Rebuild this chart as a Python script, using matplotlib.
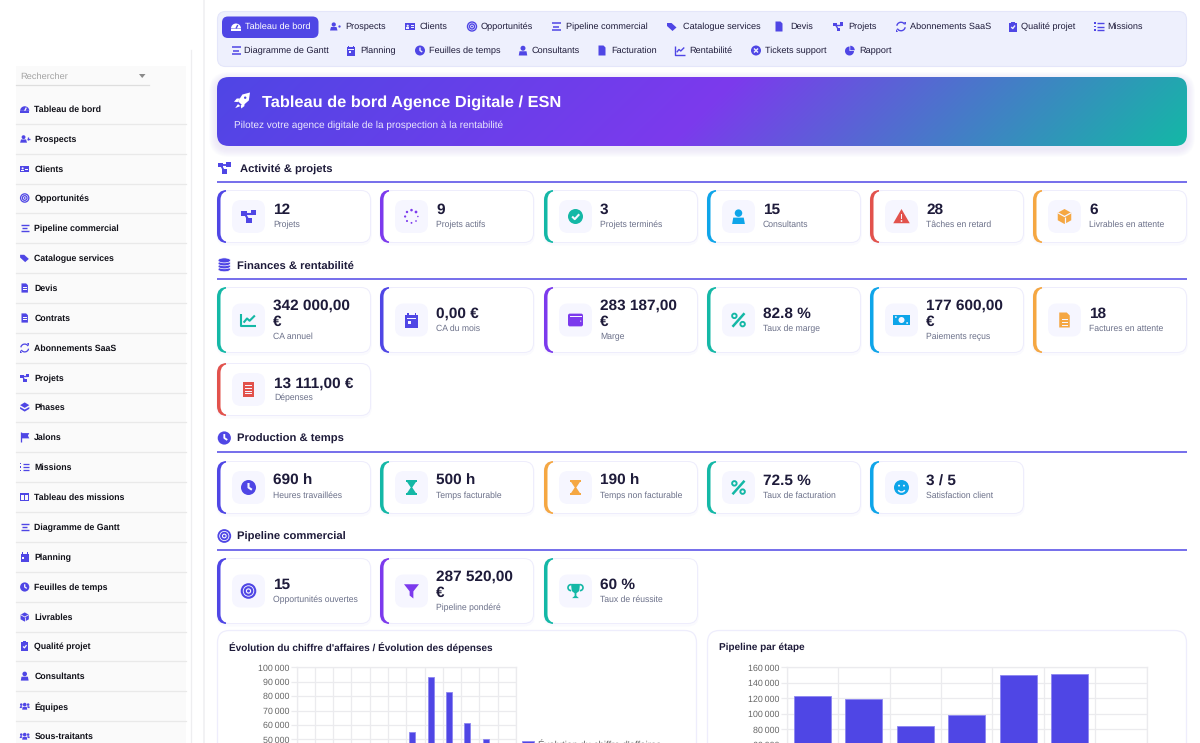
import numpy as np
import matplotlib
matplotlib.use('Agg')
import matplotlib.pyplot as plt
from matplotlib.patches import FancyBboxPatch, Rectangle, Circle, Polygon, Wedge, Ellipse, Arc
from matplotlib.ticker import FuncFormatter, MultipleLocator

plt.rcParams['font.family'] = ['Liberation Sans', 'DejaVu Sans']
plt.rcParams['text.hinting'] = 'no_hinting'

W, H = 1200, 743

INDIGO = '#4F46E5'
PURPLE = '#7C3AED'
TEAL = '#14B8A6'
BLUE = '#0EA5E9'
RED = '#E2524C'
ORANGE = '#F5A742'
DARK = '#1E1B3A'
GREY = '#6B7089'

# data
nav_row1 = ['Tableau de bord', 'Prospects', 'Clients', 'Opportunités', 'Pipeline commercial',
            'Catalogue services', 'Devis', 'Projets', 'Abonnements SaaS', 'Qualité projet', 'Missions']
nav_row2 = ['Diagramme de Gantt', 'Planning', 'Feuilles de temps', 'Consultants', 'Facturation',
            'Rentabilité', 'Tickets support', 'Rapport']
sidebar_items = ['Tableau de bord', 'Prospects', 'Clients', 'Opportunités', 'Pipeline commercial',
                 'Catalogue services', 'Devis', 'Contrats', 'Abonnements SaaS', 'Projets', 'Phases',
                 'Jalons', 'Missions', 'Tableau des missions', 'Diagramme de Gantt', 'Planning',
                 'Feuilles de temps', 'Livrables', 'Qualité projet', 'Consultants', 'Équipes',
                 'Sous-traitants']

activity_values = ['12', '9', '3', '15', '28', '6']
activity_labels = ['Projets', 'Projets actifs', 'Projets terminés', 'Consultants', 'Tâches en retard',
                   'Livrables en attente']
finance_values = ['342 000,00\n€', '0,00 €', '283 187,00\n€', '82.8 %', '177 600,00\n€', '18', '13 111,00 €']
finance_labels = ['CA annuel', 'CA du mois', 'Marge', 'Taux de marge', 'Paiements reçus',
                  'Factures en attente', 'Dépenses']
production_values = ['690 h', '500 h', '190 h', '72.5 %', '3 / 5']
production_labels = ['Heures travaillées', 'Temps facturable', 'Temps non facturable',
                     'Taux de facturation', 'Satisfaction client']
pipeline_values = ['15', '287 520,00\n€', '60 %']
pipeline_labels = ['Opportunités ouvertes', 'Pipeline pondéré', 'Taux de réussite']

ca_values = [0, 0, 0, 0, 0, 0, 55000, 93000, 83000, 61000, 50000, 0]
stage_values = [122500, 118500, 84500, 99000, 149500, 151000, 0]

# layout
nav_x1 = [245, 345, 420, 481, 566, 683, 790, 848, 910, 1021, 1107]
nav_ix1 = [236, 335, 410, 472, 556, 672, 779, 838, 901, 1013, 1099]
nav_x2 = [244, 360, 429, 532, 611, 689, 765, 859]
nav_ix2 = [236, 351, 420, 523, 602, 680, 756, 850]
nav_icons1 = ['gauge', 'userplus', 'idcard', 'target', 'bars', 'tags', 'file', 'nodes', 'sync', 'clip', 'list']
nav_icons2 = ['bars', 'calendar', 'clock', 'user', 'file', 'chart', 'ticket', 'pie']
side_y = [109, 139, 169, 198, 228, 258, 288, 318, 348, 378, 407, 437, 467, 497, 527, 557, 587, 617,
          646, 676, 706, 736]
side_icons = ['gauge', 'userplus', 'idcard', 'target', 'bars', 'tags', 'file', 'file', 'sync', 'nodes',
              'layers', 'flag', 'list', 'table', 'bars', 'calendar', 'clock', 'box', 'clip', 'user',
              'users', 'users']
card_x = [217, 380, 544, 707, 870, 1033]

fig = plt.figure(figsize=(12, 7.43), dpi=100, facecolor='white')
bg = fig.add_axes([0, 0, 1, 1])
bg.set_xlim(0, W)
bg.set_ylim(H, 0)
bg.axis('off')


def rbox(x, y, w, h, r, fc, ec='none', lw=0, alpha=None, z=1):
    p = FancyBboxPatch((x, y), w, h, boxstyle='round,pad=0,rounding_size=%s' % r, fc=fc, ec=ec, lw=lw,
                       alpha=alpha, zorder=z)
    bg.add_patch(p)
    return p


def px(size):
    return size * 0.72


def label(x, y, s, size, color=DARK, bold=False, ha='left', z=6):
    bg.text(x, y + 0.6, s, fontsize=px(size), color=color, fontweight='bold' if bold else 'normal',
            ha=ha, va='center', zorder=z)


def icon(kind, cx, cy, s, c, paper='white'):
    z = 5
    lw = max(0.7, s * 0.2)

    def rect(x, y, w, h, col=c, zz=z):
        bg.add_patch(Rectangle((cx + x * s, cy + y * s), w * s, h * s, fc=col, ec='none', zorder=zz))

    def circ(x, y, r, col=c, zz=z):
        bg.add_patch(Circle((cx + x * s, cy + y * s), r * s, fc=col, ec='none', zorder=zz))

    def ring(x, y, r, l=lw):
        bg.add_patch(Circle((cx + x * s, cy + y * s), r * s, fc='none', ec=c, lw=l, zorder=z))

    def poly(pts, col=c, zz=z):
        bg.add_patch(Polygon([(cx + a * s, cy + b * s) for a, b in pts], fc=col, ec='none', zorder=zz))

    def seg(pts, col=c, l=lw, zz=z):
        bg.plot([cx + a * s for a, b in pts], [cy + b * s for a, b in pts], color=col, lw=l,
                solid_capstyle='butt', zorder=zz)

    if kind == 'gauge':
        bg.add_patch(Wedge((cx, cy + 0.4 * s), s, 180, 360, fc=c, ec='none', zorder=z))
        rect(-1, 0.4, 2, 0.4)
        seg([(0, 0.4), (0.35, -0.3)], paper, lw, z + 1)
    elif kind == 'userplus':
        circ(-0.25, -0.4, 0.42)
        poly([(-1, 0.8), (-0.8, 0.1), (0.3, 0.1), (0.5, 0.8)])
        seg([(0.55, -0.1), (1.05, -0.1)])
        seg([(0.8, -0.35), (0.8, 0.15)])
    elif kind == 'idcard':
        rect(-1, -0.7, 2, 1.4)
        circ(-0.45, -0.15, 0.22, paper, z + 1)
        rect(-0.75, 0.15, 0.6, 0.3, paper, z + 1)
        rect(0.15, -0.3, 0.6, 0.15, paper, z + 1)
        rect(0.15, 0.1, 0.6, 0.15, paper, z + 1)
    elif kind == 'target':
        ring(0, 0, 0.9)
        ring(0, 0, 0.5)
        circ(0, 0, 0.2)
    elif kind == 'bars':
        seg([(-0.9, -0.7), (0.9, -0.7)], l=lw * 1.1)
        seg([(-0.6, 0), (0.6, 0)], l=lw * 1.1)
        seg([(-0.9, 0.7), (0.9, 0.7)], l=lw * 1.1)
    elif kind == 'tags':
        poly([(-1, -0.7), (-0.1, -0.7), (0.9, 0.2), (0.1, 0.9), (-1, -0.1)])
    elif kind == 'file':
        poly([(-0.7, -1), (0.3, -1), (0.7, -0.6), (0.7, 1), (-0.7, 1)])
        for yy in (-0.2, 0.2, 0.6):
            rect(-0.4, yy, 0.8, 0.14, paper, z + 1)
    elif kind == 'nodes':
        seg([(-0.6, -0.4), (0.6, -0.4)])
        seg([(-0.5, -0.4), (0, 0.5)])
        rect(-1, -0.75, 0.75, 0.65)
        rect(0.3, -0.85, 0.7, 0.65)
        rect(-0.3, 0.2, 0.7, 0.65)
    elif kind == 'sync':
        bg.add_patch(Arc((cx, cy), 1.7 * s, 1.7 * s, theta1=190, theta2=330, ec=c, lw=lw, zorder=z))
        bg.add_patch(Arc((cx, cy), 1.7 * s, 1.7 * s, theta1=10, theta2=150, ec=c, lw=lw, zorder=z))
        poly([(0.55, -1), (1, -1), (1, -0.4)])
        poly([(-0.55, 1), (-1, 1), (-1, 0.4)])
    elif kind == 'clip':
        rect(-0.75, -0.8, 1.5, 1.8)
        rect(-0.35, -1, 0.7, 0.4)
        seg([(-0.35, 0.1), (-0.05, 0.4), (0.4, -0.2)], paper, lw, z + 1)
    elif kind == 'list':
        for yy in (-0.7, 0, 0.7):
            rect(-1, yy - 0.15, 0.3, 0.3)
            seg([(-0.4, yy), (1, yy)])
    elif kind == 'calendar':
        rect(-0.85, -0.7, 1.7, 1.7)
        rect(-0.65, -1, 0.25, 0.4)
        rect(0.4, -1, 0.25, 0.4)
        rect(-0.65, -0.25, 1.3, 0.12, paper, z + 1)
        rect(-0.5, 0.1, 0.4, 0.4, paper, z + 1)
    elif kind == 'clock':
        circ(0, 0, 1)
        seg([(0, -0.6), (0, 0), (0.45, 0.3)], paper, lw, z + 1)
    elif kind == 'user':
        circ(0, -0.45, 0.5)
        poly([(-0.85, 1), (-0.7, 0.15), (0.7, 0.15), (0.85, 1)])
    elif kind == 'chart':
        seg([(-1, -0.85), (-1, 0.8), (1, 0.8)])
        seg([(-0.65, 0.35), (-0.2, -0.2), (0.15, 0.1), (0.85, -0.6)])
    elif kind == 'ticket':
        circ(0, 0, 1)
        seg([(-0.4, -0.4), (0.4, 0.4)], paper, lw, z + 1)
        seg([(-0.4, 0.4), (0.4, -0.4)], paper, lw, z + 1)
    elif kind == 'pie':
        bg.add_patch(Wedge((cx - 0.1 * s, cy + 0.1 * s), 0.9 * s, 0, 270, fc=c, ec='none', zorder=z))
        bg.add_patch(Wedge((cx + 0.05 * s, cy - 0.05 * s), 0.9 * s, 270, 360, fc=c, ec='none', zorder=z))
    elif kind == 'layers':
        poly([(0, -1), (1, -0.4), (0, 0.2), (-1, -0.4)])
        poly([(-1, 0), (0, 0.55), (1, 0), (1, 0.4), (0, 1), (-1, 0.4)])
    elif kind == 'flag':
        seg([(-0.9, -1), (-0.9, 1)])
        poly([(-0.7, -0.85), (1, -0.85), (0.7, -0.3), (1, 0.3), (-0.7, 0.3)])
    elif kind == 'table':
        rect(-1, -0.8, 2, 1.6)
        rect(-0.8, -0.35, 0.7, 0.95, paper, z + 1)
        rect(0.1, -0.35, 0.7, 0.95, paper, z + 1)
    elif kind == 'users':
        circ(0, -0.3, 0.4)
        circ(-0.75, -0.3, 0.28)
        circ(0.75, -0.3, 0.28)
        poly([(-0.55, 0.8), (-0.45, 0.2), (0.45, 0.2), (0.55, 0.8)])
        poly([(-1.1, 0.45), (-1, 0.05), (-0.55, 0.05), (-0.65, 0.45)])
        poly([(1.1, 0.45), (1, 0.05), (0.55, 0.05), (0.65, 0.45)])
    elif kind == 'box':
        poly([(0, -1), (0.9, -0.5), (0.9, 0.5), (0, 1), (-0.9, 0.5), (-0.9, -0.5)])
        seg([(-0.9, -0.5), (0, 0), (0.9, -0.5)], paper, lw * 0.6, z + 1)
        seg([(0, 0), (0, 1)], paper, lw * 0.6, z + 1)
    elif kind == 'spin':
        for i, a in enumerate(np.linspace(0, 2 * np.pi, 8, endpoint=False)):
            circ(0.85 * np.cos(a), 0.85 * np.sin(a), 0.1 + 0.012 * i)
    elif kind == 'check':
        circ(0, 0, 1)
        seg([(-0.45, 0), (-0.1, 0.35), (0.5, -0.3)], paper, lw, z + 1)
    elif kind == 'warn':
        poly([(0, -1), (1.1, 0.9), (-1.1, 0.9)])
        rect(-0.1, -0.35, 0.2, 0.7, paper, z + 1)
        circ(0, 0.6, 0.12, paper, z + 1)
    elif kind == 'percent':
        seg([(0.8, -0.9), (-0.8, 0.9)], l=lw * 1.2)
        ring(-0.55, -0.55, 0.3, lw * 0.9)
        ring(0.55, 0.55, 0.3, lw * 0.9)
    elif kind == 'money':
        rect(-1.1, -0.7, 2.2, 1.4)
        circ(0, 0, 0.4, paper, z + 1)
        circ(-0.75, -0.4, 0.12, paper, z + 1)
        circ(0.75, 0.4, 0.12, paper, z + 1)
    elif kind == 'wallet':
        rbox(cx - s, cy - 0.85 * s, 2 * s, 1.7 * s, 0.25 * s, c, z=z)
        rect(-0.8, -0.5, 1.6, 0.08, paper, z + 1)
        circ(0.7, 0.15, 0.08, paper, z + 1)
    elif kind == 'receipt':
        rect(-0.75, -1, 1.5, 2)
        for yy in (-0.55, -0.2, 0.15, 0.5):
            rect(-0.5, yy, 1, 0.14, paper, z + 1)
    elif kind == 'hourglass':
        rect(-0.75, -1, 1.5, 0.25)
        rect(-0.75, 0.75, 1.5, 0.25)
        poly([(-0.6, -0.75), (0.6, -0.75), (0.1, 0), (0.6, 0.75), (-0.6, 0.75), (-0.1, 0)])
    elif kind == 'smile':
        circ(0, 0, 1)
        circ(-0.33, -0.25, 0.13, paper, z + 1)
        circ(0.33, -0.25, 0.13, paper, z + 1)
        bg.add_patch(Arc((cx, cy + 0.1 * s), s, s, theta1=30, theta2=150, ec=paper, lw=lw * 0.7, zorder=z + 1))
    elif kind == 'filter':
        poly([(-1, -0.9), (1, -0.9), (0.25, 0.05), (0.25, 1), (-0.25, 0.6), (-0.25, 0.05)])
    elif kind == 'trophy':
        poly([(-0.6, -0.95), (0.6, -0.95), (0.5, 0), (0.12, 0.3), (0.12, 0.65), (0.45, 0.95), (-0.45, 0.95),
              (-0.12, 0.65), (-0.12, 0.3), (-0.5, 0)])
        bg.add_patch(Arc((cx - 0.6 * s, cy - 0.45 * s), 0.8 * s, 0.8 * s, theta1=90, theta2=270, ec=c, lw=lw * 0.8, zorder=z))
        bg.add_patch(Arc((cx + 0.6 * s, cy - 0.45 * s), 0.8 * s, 0.8 * s, theta1=270, theta2=90, ec=c, lw=lw * 0.8, zorder=z))
    elif kind == 'rocket':
        poly([(1, -1), (0.85, 0), (0.1, 0.65), (-0.5, 0.1), (0.05, -0.75)])
        poly([(-0.25, -0.25), (-0.65, -0.25), (-1, 0.15), (-0.55, 0.2)])
        poly([(0.3, 0.35), (0.3, 0.7), (-0.1, 1), (-0.15, 0.6)])
        poly([(-0.5, 0.45), (-0.2, 0.7), (-0.85, 0.95)])
        circ(0.4, -0.35, 0.15, INDIGO, z + 1)
    elif kind == 'coins':
        for yy in (0.65, 0.2, -0.25, -0.7):
            bg.add_patch(Ellipse((cx, cy + yy * s), 1.9 * s, 0.75 * s, fc=c, ec='white', lw=0.5, zorder=z))


def kpi_card(x, y, h, value, text, color, kind, tx=56):
    w = 154
    # soft shadow
    rbox(x - 1, y + 1, w + 2, h + 1.5, 11, '#4F46E5', alpha=0.025, z=1)
    rbox(x, y, w, h, 10, '#EEEDFC', z=2)
    left = rbox(x, y, w, h, 10, color, z=2.1)
    left.set_clip_path(Rectangle((x, y), 9, h, transform=bg.transData))
    rbox(x + 3.5, y + 1, w - 4.5, h - 2, 9, 'white', z=2.2)
    mid = y + h / 2
    rbox(x + 15, mid - 16.5, 33, 33, 9, '#F6F6FF', z=3)
    icon(kind, x + 31.5, mid, 7.5, color, paper='#F6F6FF')
    if '\n' in value:
        first, second = value.split('\n')
        label(x + tx, mid - 15, first, 15.4, bold=True)
        label(x + tx, mid + 1.5, second, 15.4, bold=True)
        label(x + tx, mid + 16, text, 8.7, GREY)
    else:
        label(x + tx, mid - 6.7, value, 15.4, bold=True)
        label(x + tx, mid + 7.8, text, 8.7, GREY)


def section(y, text, kind, tx):
    icon(kind, 224.3, y, 6.6, INDIGO)
    label(217 + tx, y, text, 11.3, bold=True)
    bg.plot([217, 1187], [y + 13.5, y + 13.5], color=INDIGO, lw=1.1, zorder=2, solid_capstyle='butt')


# sidebar
bg.plot([204, 204], [0, H], color='#F2F2F4', lw=1.4, zorder=1)
bg.plot([190.5, 190.5], [50, H], color='#EEEEF0', lw=0.9, zorder=1)
bg.add_patch(Rectangle((16, 66), 170, H - 66, fc='#FAFAFA', ec='none', zorder=1))
bg.plot([16, 149], [85, 85], color='#DEDEDE', lw=0.9, zorder=2)
label(20, 75.5, 'Rechercher', 9.3, '#A3A3A3')
bg.add_patch(Polygon([(139, 74), (145.5, 74), (142.2, 78)], fc='#8A8A8A', ec='none', zorder=2))
for name, yy, kind in zip(sidebar_items, side_y, side_icons):
    icon(kind, 24.7, yy, 4.6, INDIGO, paper='#FAFAFA')
    label(34.3, yy, name, 8.8, '#101018', bold=True)
    bg.plot([16, 186], [yy + 15.3, yy + 15.3], color='#E9E9E9', lw=0.9, zorder=2)

# nav bar
rbox(217.5, 11.5, 969, 55, 8, '#EEF0FD', ec='#E4E6FA', lw=0.8)
rbox(222, 16.5, 96.5, 21.5, 6, INDIGO, z=3)
for i, (name, xt, xi, kind) in enumerate(zip(nav_row1, nav_x1, nav_ix1, nav_icons1)):
    active = i == 0
    col = 'white' if active else INDIGO
    icon(kind, xi, 26.5, 5, col, paper=INDIGO if active else '#EEF0FD')
    label(xt, 26.2, name, 9.1, 'white' if active else DARK)
for name, xt, xi, kind in zip(nav_row2, nav_x2, nav_ix2, nav_icons2):
    icon(kind, xi, 50.5, 5, INDIGO, paper='#EEF0FD')
    label(xt, 50.2, name, 9.1, DARK)

# hero banner with gradient
for grow in range(1, 9):
    rbox(217 - grow, 77 - grow + 3, 970 + 2 * grow, 69 + 2 * grow, 12 + grow, '#4F46E5', alpha=0.012, z=1)
hero = rbox(217, 77, 970, 69, 12, 'none', z=2)
gx, gy = np.meshgrid(np.linspace(0, 970, 486), np.linspace(0, 69, 35))
length = (970 + 69) * 0.7071
t = ((gx - 485) * 0.7071 + (gy - 34.5) * 0.7071) / length + 0.5
stops = [0, 0.5, 1]
rgb = np.dstack([np.interp(t, stops, [0x4F / 255, 0x7C / 255, 0x14 / 255]),
                 np.interp(t, stops, [0x46 / 255, 0x3A / 255, 0xB8 / 255]),
                 np.interp(t, stops, [0xE5 / 255, 0xED / 255, 0xA6 / 255])])
im = bg.imshow(rgb, extent=(217, 1187, 146, 77), aspect='auto', zorder=2, interpolation='bilinear')
im.set_clip_path(hero)
bg.set_xlim(0, W)
bg.set_ylim(H, 0)
icon('rocket', 242, 100.5, 8, 'white')
label(262, 101.5, 'Tableau de bord Agence Digitale / ESN', 16.35, 'white', bold=True)
label(234, 124.2, 'Pilotez votre agence digitale de la prospection à la rentabilité', 10, '#ECE9FD')

# activité
section(168, 'Activité & projets', 'nodes', 23)
cols = [INDIGO, PURPLE, TEAL, BLUE, RED, ORANGE]
kinds = ['nodes', 'spin', 'check', 'user', 'warn', 'box']
for x, v, t_, c, k in zip(card_x, activity_values, activity_labels, cols, kinds):
    kpi_card(x, 190, 53, v, t_, c, k)

# finances
section(265, 'Finances & rentabilité', 'coins', 20)
cols = [TEAL, INDIGO, PURPLE, TEAL, BLUE, ORANGE]
kinds = ['chart', 'calendar', 'wallet', 'percent', 'money', 'file']
for x, v, t_, c, k in zip(card_x, finance_values[:6], finance_labels[:6], cols, kinds):
    kpi_card(x, 287, 66, v, t_, c, k)
kpi_card(217, 363, 53, finance_values[6], finance_labels[6], RED, 'receipt', tx=57)

# production
section(438, 'Production & temps', 'clock', 20)
cols = [INDIGO, TEAL, ORANGE, TEAL, BLUE]
kinds = ['clock', 'hourglass', 'hourglass', 'percent', 'smile']
for x, v, t_, c, k in zip(card_x, production_values, production_labels, cols, kinds):
    kpi_card(x, 461, 53, v, t_, c, k)

# pipeline
section(536, 'Pipeline commercial', 'target', 20)
cols = [INDIGO, PURPLE, TEAL]
kinds = ['target', 'filter', 'trophy']
for x, v, t_, c, k in zip(card_x, pipeline_values, pipeline_labels, cols, kinds):
    kpi_card(x, 558, 66, v, t_, c, k)

# chart cards
for x0, title in ((217, "Évolution du chiffre d'affaires / Évolution des dépenses"), (707, 'Pipeline par étape')):
    rbox(x0 + 0.5, 630.5, 479, 160, 12, 'white', ec='#EEEDFC', lw=0.9, z=2)
    label(x0 + 12, 646.8, title, 10, bold=True)


def chart_axes(x0, x1, y0, y1, xmax, ymax, ystep, first_shown):
    ax = fig.add_axes([x0 / W, 1 - y1 / H, (x1 - x0) / W, (y1 - y0) / H])
    ax.patch.set_alpha(0)
    ax.set_xlim(0, xmax)
    ax.set_ylim(0, ymax)
    ax.xaxis.set_major_locator(MultipleLocator(1))
    ax.yaxis.set_major_locator(MultipleLocator(ystep))
    # labels below the fold stay empty, the picture stops at the page edge
    ax.yaxis.set_major_formatter(FuncFormatter(
        lambda v, pos: '{:,}'.format(int(v)).replace(',', '\u2009') if v >= first_shown else ''))
    ax.grid(True, color='#EBEBEE', lw=0.9)
    ax.set_axisbelow(True)
    ax.tick_params(axis='y', length=4.5, width=0.9, color='#EBEBEE', labelsize=px(8.9), labelcolor='#666666', pad=0.5)
    ax.tick_params(axis='x', length=0, labelbottom=False)
    for sp in ax.spines.values():
        sp.set_color('#EBEBEE')
        sp.set_linewidth(0.9)
    return ax


ax1 = chart_axes(296.5, 516, 667.3, 811.3, 12, 100000, 10000, 50000)
cell_x = np.arange(len(ca_values))
ax1.bar(cell_x + 0.5 - 0.165, ca_values, width=0.33, color=INDIGO, edgecolor='#8C86F0', linewidth=0.6,
        label="Évolution du chiffre d'affaires")
ax1.legend(loc='upper left', bbox_to_anchor=(1.004, 0.525), frameon=False, fontsize=px(9.6), labelcolor='#666666',
           handlelength=1.3, handleheight=0.8, handletextpad=0.35, borderpad=0, borderaxespad=0.5)

ax2 = chart_axes(786.7, 1146.7, 667.3, 791.3, 7, 160000, 20000, 60000)
stage_x = np.arange(len(stage_values))
ax2.bar(stage_x + 0.5, stage_values, width=0.72, color=INDIGO, edgecolor='#8C86F0', linewidth=0.6)

fig.savefig('out.png', dpi=100)
